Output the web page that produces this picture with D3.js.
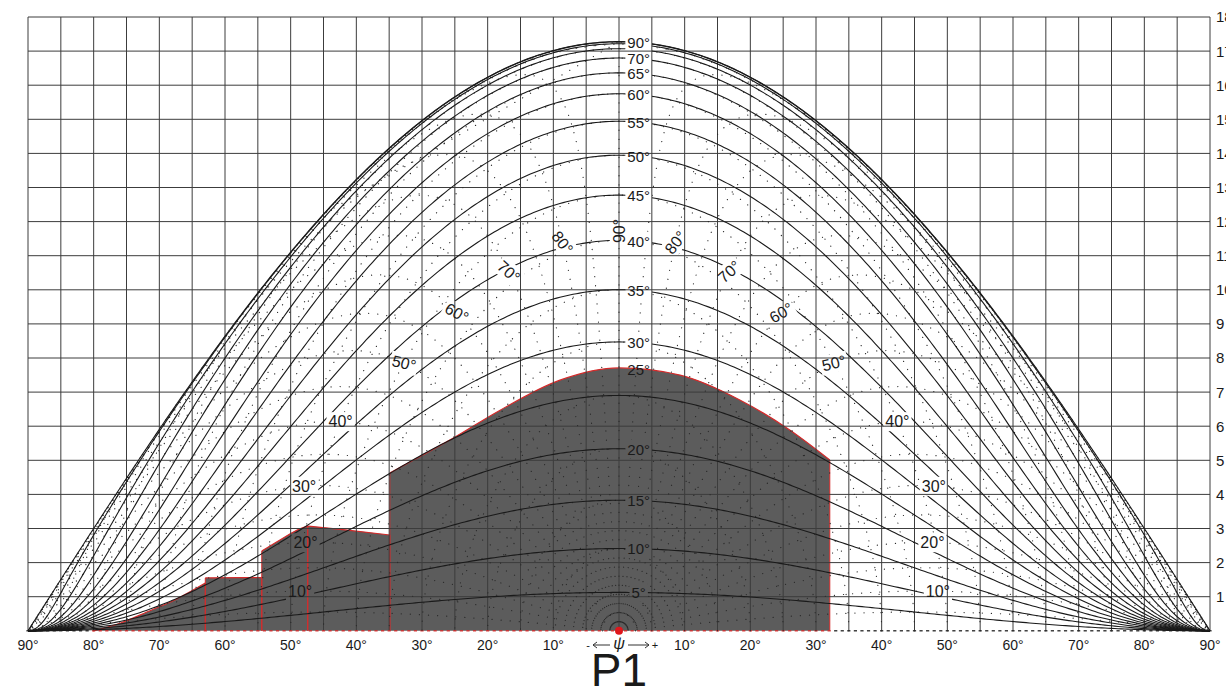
<!DOCTYPE html>
<html>
<head>
<meta charset="utf-8">
<script src="https://cdn.jsdelivr.net/npm/d3@7"></script>
<style>
  body { margin: 0; background: #fff; }
  svg { display: block; font-family: "Liberation Sans", Arial, sans-serif; }
</style>
</head>
<body>
<div id="chart"></div>
<script>
// horizontal angle psi (deg), one column every 5 deg
var psiGrid = [-90,-85,-80,-75,-70,-65,-60,-55,-50,-45,-40,-35,-30,-25,-20,-15,-10,-5,0,
               5,10,15,20,25,30,35,40,45,50,55,60,65,70,75,80,85,90];
var psiTicks = [-90,-80,-70,-60,-50,-40,-30,-20,-10,10,20,30,40,50,60,70,80,90];
// right hand scale, 0.1 % sky component per cell
var unitTicks = [1,2,3,4,5,6,7,8,9,10,11,12,13,14,15,16,17,18];
var vscTotal = 39.6;   // % for the whole vertical sky (CIE overcast)

// profile angle curves (solid) and the ones carrying a label
var profileAngles = [5,10,15,20,25,30,35,40,45,50,55,60,65,70,75,80,85,90];
var profileLabels = [5,10,15,20,25,30,35,40,45,50,55,60,65,70,90];

// planes through the window normal (dotted radials) and circles round the normal
var planeAngles = [5,10,15,20,25,30,35,40,45,50,55,60,65,70,75,80,85,90];
var planeLabels = [10,20,30,40,50,60,70,80,90];
var planeLabelAt = [49,49.5,52,50,45,42.6,41.4,41,41];   // angle from the normal where the label sits
var planeLabelTilt = [0,0,0,0,14,30,42,52,90];          // text rotation on the left side
var circleAngles = [2.5,5,10,15,20,25,30,35,40,45,50,55,60,65,70,75,80,85];

// obstruction seen from P1 : [psi, height in grid units] along each roof line
var obstructions = [
  [[-80.1,0],[-76,0.22],[-71.9,0.55],[-67.5,0.92],[-63.0,1.40]],
  [[-63.0,1.55],[-58,1.56],[-54.4,1.56]],
  [[-54.4,2.34],[-51.5,2.68],[-48.6,2.99],[-47.4,3.07]],
  [[-47.4,3.07],[-41.7,2.96],[-34.9,2.81]],
  [[-34.9,4.63],[-29.8,5.16],[-25.7,5.60],[-18.1,6.47],[-9.0,7.35],[0,7.71],
   [9.3,7.50],[18.4,6.77],[26.0,5.89],[32.1,5.01]]
];

var W = 1226, Hpx = 689;
var svg = d3.select("#chart").append("svg").attr("width", W).attr("height", Hpx);

var x = d3.scaleLinear().domain([-90, 90]).range([28, 1210]);
var y = d3.scaleLinear().domain([0, 18]).range([630.8, 17]);

var rad = Math.PI / 180;
// height of the 90 deg curve in cells so that the whole area is vscTotal
var Hmax = vscTotal * 10 * Math.PI / 72;

// CIE overcast weighting on a vertical plane
function g(th) {
  return (th / 2 + Math.sin(2 * th) / 4 + 2 * (1 - Math.pow(Math.cos(th), 3)) / 3) /
         (Math.PI / 4 + 2 / 3);
}
// direction (psi, elevation) in degrees -> chart units
function proj(psi, el) {
  return [psi, Hmax * Math.cos(psi * rad) * g(el * rad)];
}
function fromVector(dx, dy, dz) {
  var psi = Math.atan2(dx, dy) / rad;
  var el = Math.asin(Math.max(-1, Math.min(1, dz))) / rad;
  return proj(psi, el);
}
function onPlane(gm, s, t) {
  return fromVector(s * Math.sin(t * rad) * Math.cos(gm * rad), Math.cos(t * rad),
                    Math.sin(t * rad) * Math.sin(gm * rad));
}

var line = d3.line().x(function(d) { return x(d[0]); }).y(function(d) { return y(d[1]); });

function profileCurve(b) {
  var pts = [];
  for (var p = -90; p <= 90.001; p += 0.5) {
    var c = Math.cos(p * rad);
    var el = b >= 90 ? (c > 1e-9 ? 90 : 0) : Math.atan(Math.tan(b * rad) * c) / rad;
    pts.push(proj(p, el));
  }
  return pts;
}
function planeCurve(gm, s) {
  var pts = [];
  for (var t = 0; t <= 90.001; t += 0.5) pts.push(onPlane(gm, s, t));
  return pts;
}
function circleCurve(t0) {
  var pts = [];
  for (var gm = 0; gm <= 180.001; gm += 1) {
    pts.push(fromVector(Math.sin(t0 * rad) * Math.cos(gm * rad), Math.cos(t0 * rad),
                        Math.sin(t0 * rad) * Math.sin(gm * rad)));
  }
  return pts;
}

var defs = svg.append("defs");
var mask = defs.append("mask").attr("id", "labelgap").attr("maskUnits", "userSpaceOnUse")
  .attr("x", 0).attr("y", 0).attr("width", W).attr("height", Hpx);
mask.append("rect").attr("width", W).attr("height", Hpx).attr("fill", "#fff");

// obstruction (drawn first, the diagram shows through it)
var area = d3.area().x(function(d) { return x(d[0]); }).y0(y(0))
  .y1(function(d) { return y(d[1]); }).curve(d3.curveMonotoneX);
var roof = d3.line().x(function(d) { return x(d[0]); }).y(function(d) { return y(d[1]); })
  .curve(d3.curveMonotoneX);
var obsG = svg.append("g");
obstructions.forEach(function(b) {
  obsG.append("path").attr("d", area(b)).attr("fill", "#5c5c5c");
});
obstructions.forEach(function(b) {
  obsG.append("path").attr("d", roof(b)).attr("fill", "none").attr("stroke", "#d42a2a").attr("stroke-width", 1.2);
  [b[0], b[b.length - 1]].forEach(function(p) {
    obsG.append("line").attr("x1", x(p[0])).attr("x2", x(p[0]))
      .attr("y1", y(0)).attr("y2", y(p[1]))
      .attr("stroke", "#d42a2a").attr("stroke-width", 1);
  });
});

// grid
var grid = svg.append("g").attr("stroke", "#3c3c3c").attr("stroke-width", 1);
psiGrid.forEach(function(p) {
  grid.append("line").attr("x1", x(p)).attr("x2", x(p)).attr("y1", y(18)).attr("y2", y(0));
});
unitTicks.forEach(function(u) {
  grid.append("line").attr("x1", x(-90)).attr("x2", x(90)).attr("y1", y(u)).attr("y2", y(u));
});

// baseline ticks, one per degree
var base = svg.append("g");
var obsRange = [obstructions[0][0][0], obstructions[obstructions.length - 1].slice(-1)[0][0]];
for (var p = -90; p <= 90; p++) {
  var inside = p >= obsRange[0] && p <= obsRange[1];
  base.append("line").attr("x1", x(p) - 1.6).attr("x2", x(p) + 1.6)
    .attr("y1", y(0)).attr("y2", y(0))
    .attr("stroke", inside ? "#d42a2a" : "#222").attr("stroke-width", 1.3);
}

// dotted construction lines
var dots = svg.append("g").attr("mask", "url(#labelgap)").attr("fill", "none")
  .attr("stroke", "#2a2a2a").attr("stroke-width", 1.2).attr("stroke-linecap", "round")
  .attr("stroke-dasharray", "0.1,9");
planeAngles.forEach(function(gm) {
  dots.append("path").attr("d", line(planeCurve(gm, -1)));
  if (gm < 90) dots.append("path").attr("d", line(planeCurve(gm, 1)));
});
circleAngles.forEach(function(t0) {
  dots.append("path").attr("d", line(circleCurve(t0)));
});

// profile angle curves
var curves = svg.append("g").attr("mask", "url(#labelgap)").attr("fill", "none")
  .attr("stroke", "#1a1a1a").attr("stroke-width", 1.1);
profileAngles.forEach(function(b) {
  curves.append("path").attr("d", line(profileCurve(b)));
});

// labels, with a gap cut in the curves behind them
var labels = svg.append("g").attr("fill", "#1a1a1a");
function gapFor(node, transform) {
  var bb = node.getBBox();
  mask.append("rect").attr("x", bb.x - 2).attr("y", bb.y - 1)
    .attr("width", bb.width + 4).attr("height", bb.height + 2)
    .attr("transform", transform || null).attr("fill", "#000");
}

// the 25 deg label is lifted onto the roof line, as in the original sheet
var labelLift = { 25: 0.78 };
profileLabels.forEach(function(b) {
  var pt = proj(3, b >= 90 ? 90 : Math.atan(Math.tan(b * rad) * Math.cos(3 * rad)) / rad);
  var t = labels.append("text").attr("x", x(3)).attr("y", y(pt[1] + (labelLift[b] || 0)))
    .attr("dy", "0.36em").attr("text-anchor", "middle").attr("font-size", 15)
    .text(b + "°");
  if (!labelLift[b]) gapFor(t.node());
});

planeLabels.forEach(function(gm, i) {
  var sides = gm === 90 ? [1] : [-1, 1];
  sides.forEach(function(s) {
    var a = onPlane(gm, s, planeLabelAt[i]);
    var px = x(a[0]), py = y(a[1]);
    var ang = gm === 90 ? -90 : -s * planeLabelTilt[i];
    var tr = "rotate(" + ang + "," + px + "," + py + ")";
    var t = labels.append("text").attr("x", px).attr("y", py).attr("dy", "0.36em")
      .attr("text-anchor", "middle").attr("font-size", 16)
      .attr("transform", tr).text(gm + "°");
    gapFor(t.node(), tr);
  });
});

// bottom axis
var axisG = svg.append("g").attr("font-size", 14).attr("fill", "#1a1a1a").attr("text-anchor", "middle");
psiTicks.forEach(function(p) {
  axisG.append("text").attr("x", x(p)).attr("y", 650).text(Math.abs(p) + "°");
});
axisG.append("text").attr("x", x(0)).attr("y", 649).attr("font-size", 16).attr("font-style", "italic").text("ψ");
var arr = svg.append("g").attr("stroke", "#333").attr("stroke-width", 1).attr("fill", "none");
arr.append("path").attr("d", "M" + (x(0) - 9) + ",645 H" + (x(0) - 26) + " m4,-3 l-4,3 l4,3");
arr.append("path").attr("d", "M" + (x(0) + 9) + ",645 H" + (x(0) + 30) + " m-4,-3 l4,3 l-4,3");
axisG.append("text").attr("x", x(0) - 31).attr("y", 649).attr("font-size", 11).text("-");
axisG.append("text").attr("x", x(0) + 36).attr("y", 649).attr("font-size", 11).text("+");

// right axis
var right = svg.append("g").attr("font-size", 15).attr("fill", "#1a1a1a");
unitTicks.forEach(function(u) {
  right.append("text").attr("x", 1216).attr("y", y(u)).attr("dy", "0.36em").text(u);
});

// point P1
svg.append("circle").attr("cx", x(0)).attr("cy", y(0)).attr("r", 4).attr("fill", "#e0161b");
svg.append("text").attr("x", x(0)).attr("y", 686).attr("text-anchor", "middle")
  .attr("font-size", 46).attr("fill", "#1a1a1a").text("P1");
</script>
</body>
</html>
